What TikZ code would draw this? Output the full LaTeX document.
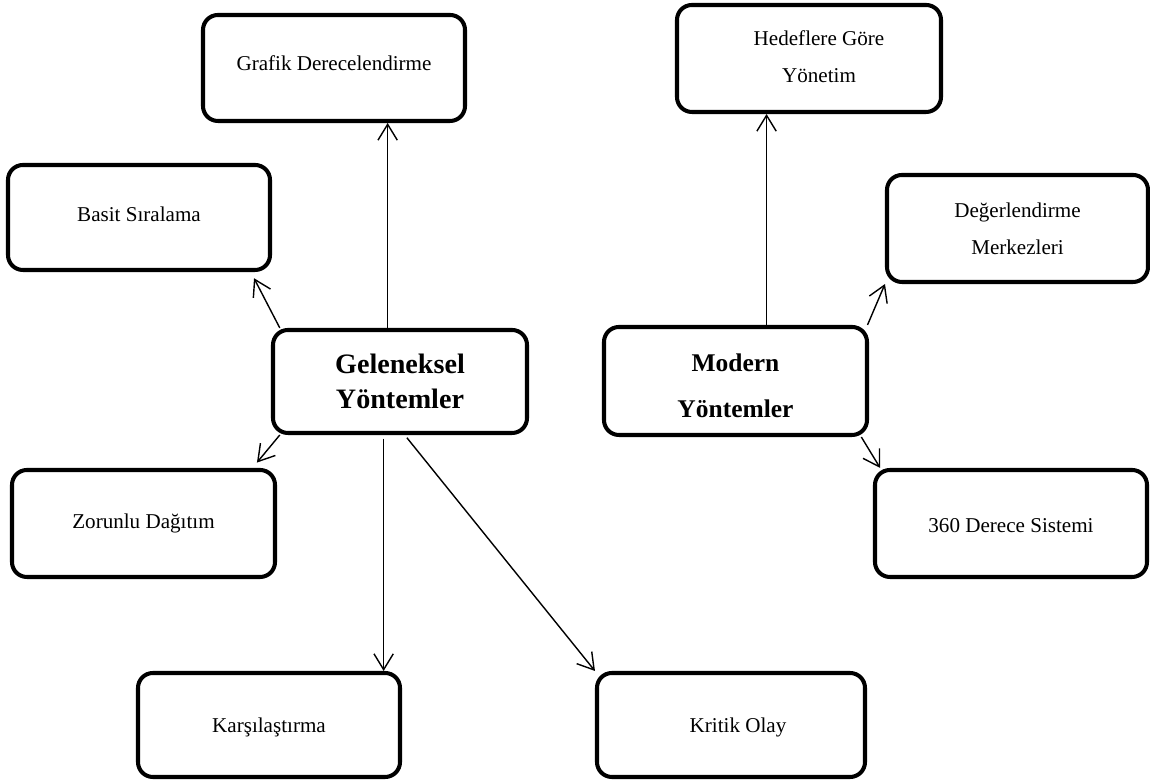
\documentclass[tikz,border=0pt]{standalone}
\usepackage{fontspec}
\setmainfont{Liberation Serif}
\usetikzlibrary{arrows.meta}

\begin{document}
\begin{tikzpicture}[
    >={Straight Barb[length=9pt,width=11pt]},
    box/.style={draw, line width=2.3pt, rounded corners=8.5pt, minimum width=5.24cm, minimum height=2.1cm},
    lbl/.style={font=\fontsize{12}{21}\selectfont, align=center},
    one/.style={lbl, text height=1.6ex, text depth=.4ex},
    head/.style={font=\bfseries\fontsize{16}{20}\selectfont, align=center},
    link/.style={->, line width=0.8pt}
  ]
     \useasboundingbox (0,0) rectangle (23,15.6);
     \node [box] (gel) at (8.00, 7.97) [minimum width=5.08cm, minimum height=2.06cm] {};
     \node [head] (gel-t) at ([yshift=-1.07cm]gel.north) {Geleneksel\\Yöntemler};
     \node [box] (mod) at (14.71, 7.98) [minimum width=5.26cm, minimum height=2.16cm] {};
     \node [head, font=\bfseries\fontsize{14.5}{26}\selectfont] (mod-t) at ([yshift=-1.22cm]mod.north) {Modern\\Yöntemler};
     \node [box] (graf) at (6.68, 14.24) [minimum height=2.12cm] {};
     \node [one] (graf-t) at ([yshift=-1.05cm]graf.north) {Grafik Derecelendirme};
     \node [box] (basit) at (2.78, 11.25) {};
     \node [one] (basit-t) at ([yshift=-1.08cm]basit.north) {Basit Sıralama};
     \node [box] (zor) at (2.87, 5.13) [minimum width=5.26cm, minimum height=2.14cm] {};
     \node [one] (zor-t) at ([yshift=-1.12cm]zor.north) {Zorunlu Dağıtım};
     \node [box] (kars) at (5.38, 1.10) [minimum height=2.08cm] {};
     \node [one] (kars-t) at ([yshift=-1.14cm]kars.north) {Karşılaştırma};
     \node [box] (krit) at (14.62, 1.10) [minimum width=5.36cm, minimum height=2.08cm] {};
     \node [one] (krit-t) at ([yshift=-1.14cm, xshift=0.14cm]krit.north) {Kritik Olay};
     \node [box] (hed) at (16.18, 14.43) [minimum width=5.28cm, minimum height=2.14cm] {};
     \node [lbl] (hed-t) at ([yshift=-1.07cm, xshift=0.2cm]hed.north) {Hedeflere Göre\\Yönetim};
     \node [box] (deg) at (20.35, 11.03) [minimum width=5.22cm, minimum height=2.14cm] {};
     \node [lbl] (deg-t) at ([yshift=-1.12cm]deg.north) {Değerlendirme\\Merkezleri};
     \node [box] (sys) at (20.22, 5.13) [minimum width=5.44cm, minimum height=2.14cm] {};
     \node [one] (sys-t) at ([yshift=-1.2cm]sys.north) {360 Derece Sistemi};
     \draw [link] (gel.103) -- (gel.103 |- graf.south);
     \draw [link, shorten >=4pt] (gel.156) -- (basit.334);
     \draw [link, shorten >=4pt] (gel.204) -- (zor.27);
     \draw [link, shorten <=2pt] (gel.253) -- (gel.253 |- kars.north);
     \draw [link, shorten <=2pt] (gel.275) -- (krit.north west);
     \draw [link] (mod.61) -- (mod.61 |- hed.south);
     \draw [link] (mod.23) -- (deg.south west);
     \draw [link] (mod.336) -- (sys.157);
\end{tikzpicture}
\end{document}
